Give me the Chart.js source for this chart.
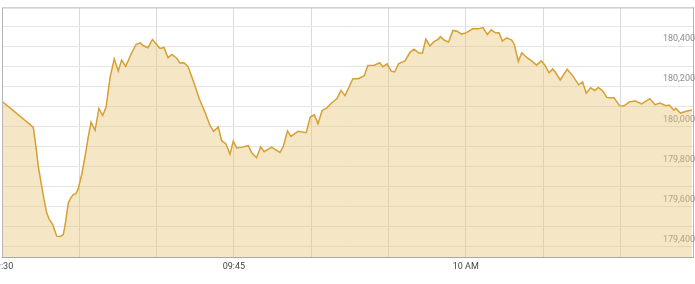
<!DOCTYPE html>
<html>
<head>
<meta charset="utf-8">
<script src="https://cdn.jsdelivr.net/npm/chart.js@4.4.1/dist/chart.umd.min.js"></script>
<style>
  html, body { margin: 0; padding: 0; background: #fff; overflow: hidden; }
</style>
</head>
<body>
<canvas id="myGraph" width="697" height="284"></canvas>
<script>
// minutes after 09:30
const minutes = [
  0, 2.02, 2.20, 2.35, 2.57, 2.72, 2.89, 3.06, 3.28, 3.43,
  3.54, 3.75, 3.96, 4.07, 4.29, 4.44, 4.61, 4.79, 4.94, 5.15,
  5.37, 5.58, 5.76, 6.02, 6.27, 6.51, 6.73, 6.99, 7.26, 7.52,
  7.74, 8.00, 8.39, 8.67, 8.93, 9.14, 9.44, 9.73, 10.03, 10.22,
  10.48, 10.74, 10.98, 11.29, 11.51, 11.77, 12.03, 12.37, 12.76, 13.13,
  13.45, 13.69, 13.99, 14.21, 14.49, 14.75, 14.96, 15.18, 15.52, 15.93,
  16.18, 16.47, 16.73, 16.96, 17.44, 17.98, 18.19, 18.47, 18.69, 19.15,
  19.68, 19.94, 20.21, 20.44, 20.71, 21.00, 21.32, 21.67, 21.93, 22.19,
  22.70, 23.05, 23.43, 23.67, 24.08, 24.43, 24.64, 24.90, 25.18, 25.40,
  25.66, 26.07, 26.39, 26.65, 26.97, 27.20, 27.42, 27.68, 27.92, 28.23,
  28.36, 28.62, 28.89, 29.17, 29.44, 29.74, 30.01, 30.45, 30.81, 31.11,
  31.40, 31.65, 31.92, 32.15, 32.37, 32.64, 32.97, 33.14, 33.40, 33.62,
  33.96, 34.26, 34.58, 34.88, 35.10, 35.39, 35.62, 35.82, 36.11, 36.56,
  36.95, 37.30, 37.56, 37.79, 38.08, 38.34, 38.57, 38.84, 39.13, 39.42,
  39.58, 39.95, 40.21, 40.60, 40.97, 41.37, 41.91, 42.24, 42.56, 42.95,
  43.16, 43.47, 43.59, 43.88, 44.27, 44.63
];

const prices = [
  180125, 179996, 179897, 179798, 179700, 179634, 179568, 179535, 179510, 179477,
  179452, 179450, 179459, 179502, 179618, 179642, 179659, 179664, 179692, 179757,
  179848, 179947, 180021, 179980, 180089, 180054, 180095, 180243, 180337, 180276,
  180331, 180299, 180367, 180408, 180416, 180403, 180392, 180433, 180405, 180388,
  180393, 180342, 180358, 180341, 180316, 180317, 180299, 180227, 180137, 180070,
  180005, 179975, 179997, 179928, 179912, 179860, 179926, 179892, 179896, 179903,
  179865, 179843, 179898, 179873, 179896, 179870, 179898, 179977, 179950, 179975,
  179968, 180046, 180057, 180013, 180079, 180091, 180116, 180138, 180179, 180153,
  180237, 180237, 180252, 180303, 180305, 180317, 180297, 180311, 180275, 180271,
  180313, 180326, 180369, 180385, 180365, 180365, 180435, 180401, 180421, 180435,
  180447, 180429, 180420, 180478, 180474, 180460, 180466, 180486, 180486, 180492,
  180458, 180481, 180466, 180466, 180425, 180441, 180430, 180408, 180323, 180367,
  180342, 180326, 180305, 180326, 180307, 180267, 180286, 180267, 180231, 180285,
  180249, 180207, 180221, 180165, 180192, 180178, 180194, 180178, 180144, 180141,
  180143, 180103, 180101, 180122, 180126, 180112, 180138, 180108, 180116, 180103,
  180106, 180080, 180090, 180066, 180075, 180081
];

const tickMinutes = [0, 15, 30];
const tickLabels = ['09:30', '09:45', '10 AM'];

const frame = {
  id: 'frame',
  afterDatasetsDraw(chart) {
    const {ctx, chartArea: a} = chart;
    ctx.save();
    ctx.strokeStyle = '#b5b5b5';
    ctx.lineWidth = 1;
    ctx.beginPath();
    ctx.moveTo(a.left + 0.5, a.bottom);
    ctx.lineTo(a.left + 0.5, a.top + 0.5);
    ctx.lineTo(a.right, a.top + 0.5);
    ctx.stroke();
    ctx.restore();
  }
};

const graph = document.getElementById('myGraph');

const myGraph = new Chart(graph, {
  type: 'line',
  data: {
    datasets: [{
      data: minutes.map((m, i) => ({x: m, y: prices[i]})),
      borderColor: '#d6a032',
      borderWidth: 1.5,
      backgroundColor: 'rgba(232, 196, 118, 0.42)',
      fill: 'start',
      tension: 0,
      pointRadius: 0
    }]
  },
  options: {
    responsive: false,
    animation: false,
    devicePixelRatio: 1,
    layout: { padding: { left: 2, top: 1, right: 0, bottom: 8 } },
    plugins: { legend: { display: false }, tooltip: { enabled: false } },
    scales: {
      x: {
        type: 'linear',
        min: 0,
        max: 44.7,
        grid: { color: '#dadada', drawTicks: false },
        border: { color: '#a8a8a8', width: 1 },
        ticks: {
          stepSize: 5,
          includeBounds: false,
          autoSkip: false,
          maxRotation: 0,
          padding: 4,
          color: '#444',
          font: { family: 'Roboto', size: 9 },
          callback: v => {
            const k = tickMinutes.indexOf(v);
            return k >= 0 ? tickLabels[k] : '';
          }
        },
        afterFit: s => { s.paddingLeft = 0; s.paddingRight = 0; }
      },
      y: {
        position: 'right',
        min: 179347,
        max: 180593,
        grid: { color: '#e6e6e6', drawTicks: false },
        border: { color: '#b5b5b5', width: 1 },
        ticks: {
          stepSize: 100,
          includeBounds: false,
          mirror: true,
          padding: 2,
          labelOffset: -7,
          color: '#8c8c8c',
          font: { family: 'Roboto', size: 9 },
          callback: v => v % 200 === 0 ? v.toLocaleString('en-US') : ''
        }
      }
    }
  },
  plugins: [frame]
});
</script>
</body>
</html>
